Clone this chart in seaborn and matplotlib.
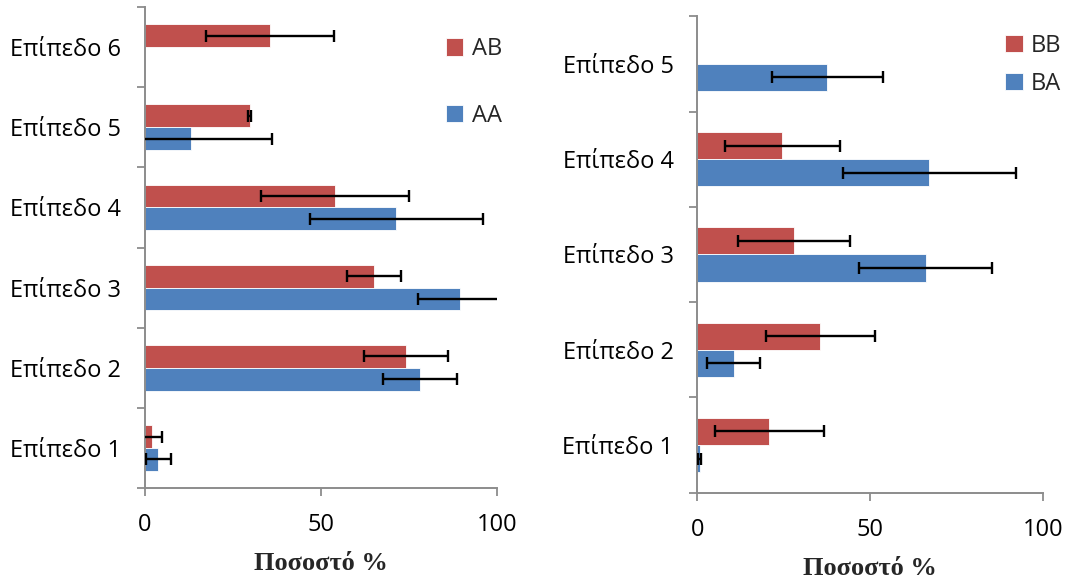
import numpy as np
import pandas as pd
import matplotlib
matplotlib.use("Agg")
import matplotlib.pyplot as plt
from matplotlib.ticker import FixedLocator
import seaborn as sns

# --- DATA ---
levels_left = ["Επίπεδο 6", "Επίπεδο 5", "Επίπεδο 4", "Επίπεδο 3", "Επίπεδο 2", "Επίπεδο 1"]
ab_values = [35.5, 29.8, 54.0, 65.1, 74.3, 2.1]
ab_errors = [18.2, 0.4, 21.0, 7.7, 11.9, 2.6]
aa_values = [np.nan, 13.1, 71.5, 89.5, 78.1, 3.8]
aa_errors = [np.nan, 23.0, 24.5, 11.8, 10.5, 3.5]

levels_right = ["Επίπεδο 5", "Επίπεδο 4", "Επίπεδο 3", "Επίπεδο 2", "Επίπεδο 1"]
bb_values = [np.nan, 24.6, 28.1, 35.6, 20.9]
bb_errors = [np.nan, 16.6, 16.2, 15.8, 15.8]
ba_values = [37.6, 67.1, 66.0, 10.6, 0.7]
ba_errors = [16.0, 25.0, 19.2, 7.7, 0.5]

x_ticks = [0, 50, 100]
x_label = "Ποσοστό %"

RED = "#C0504D"
BLUE = "#4F81BD"
SPINE = "#8C8C8C"

sns.set_theme(style="white")
plt.rcParams['font.family'] = ['Open Sans', 'DejaVu Sans']


def long_frame(levels, top_name, top_vals, bot_name, bot_vals):
    df = pd.DataFrame({
        'level': levels * 2,
        'group': [top_name] * len(levels) + [bot_name] * len(levels),
        'value': list(top_vals) + list(bot_vals),
    })
    return df.dropna()


def draw_panel(ax, levels, top_name, top_vals, top_errs, bot_name, bot_vals, bot_errs,
               legend_anchor, legend_spacing):
    df = long_frame(levels, top_name, top_vals, bot_name, bot_vals)
    sns.barplot(data=df, x='value', y='level', hue='group', order=levels,
                hue_order=[top_name, bot_name], palette=[RED, BLUE],
                orient='h', errorbar=None, width=0.57, ax=ax,
                edgecolor='white', linewidth=0.6, saturation=1)

    # error bars, matched to each bar by its category slot
    err_lookup = {top_name: top_errs, bot_name: bot_errs}
    for container, name in zip(ax.containers, [top_name, bot_name]):
        for p in container.patches:
            yc = p.get_y() + p.get_height() / 2
            idx = int(round(yc))
            ax.errorbar(p.get_width(), yc, xerr=err_lookup[name][idx], fmt='none',
                        ecolor='black', elinewidth=1.7, capsize=4.5, capthick=1.7, zorder=5)

    ax.set_xlim(0, 100)
    ax.set_ylim(len(levels) - 0.5, -0.5)
    ax.xaxis.set_major_locator(FixedLocator(x_ticks))
    ax.set_xticklabels([str(t) for t in x_ticks])

    ax.yaxis.set_minor_locator(FixedLocator(np.arange(-0.5, len(levels), 1.0)))
    ax.tick_params(axis='y', which='major', length=0, pad=17, labelsize=17, colors='black')
    ax.tick_params(axis='y', which='minor', left=True, length=6, width=1.3, color=SPINE)
    ax.tick_params(axis='x', which='major', bottom=True, length=6, width=1.3, color=SPINE,
                   pad=12, labelsize=17, labelcolor='black')

    for side in ['top', 'right']:
        ax.spines[side].set_visible(False)
    for side in ['left', 'bottom']:
        ax.spines[side].set_color(SPINE)
        ax.spines[side].set_linewidth(1.4)

    ax.set_ylabel("")
    ax.set_xlabel(x_label, family=['Liberation Serif', 'DejaVu Serif'], fontweight='bold',
                  fontsize=19, labelpad=11)

    handles, labels = ax.get_legend_handles_labels()
    ax.legend(handles, labels, loc='upper left', bbox_to_anchor=legend_anchor,
              frameon=False, fontsize=17, handlelength=0.75, handleheight=0.75,
              handletextpad=0.35, labelspacing=legend_spacing, borderpad=0, borderaxespad=0)


fig = plt.figure(figsize=(10.66, 5.79), dpi=100)
ax_left = fig.add_axes([0.136, 0.157, 0.330, 0.831])
ax_right = fig.add_axes([0.654, 0.149, 0.3246, 0.823])

draw_panel(ax_left, levels_left, "AB", ab_values, ab_errors, "AA", aa_values, aa_errors,
           legend_anchor=(0.855, 0.937), legend_spacing=1.8)
draw_panel(ax_right, levels_right, "BB", bb_values, bb_errors, "BA", ba_values, ba_errors,
           legend_anchor=(0.89, 0.963), legend_spacing=0.6)

fig.savefig("out.png", dpi=100)
